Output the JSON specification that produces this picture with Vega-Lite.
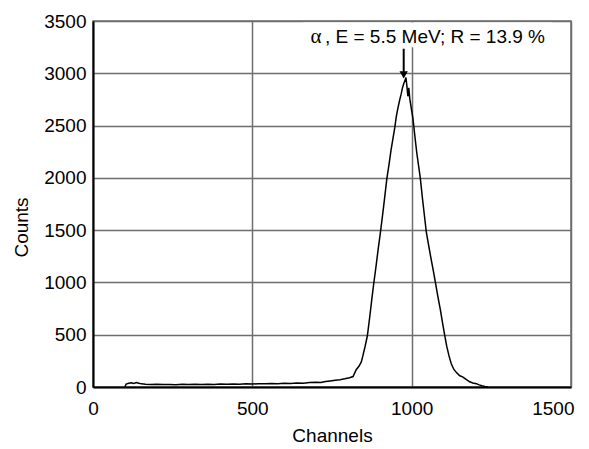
{
  "$schema": "https://vega.github.io/schema/vega-lite/v6.json",
  "width": 478,
  "height": 366,
  "autosize": {"type": "none"},
  "padding": {"left": 93, "top": 21, "right": 18, "bottom": 62},
  "background": "white",
  "config": {
    "view": {"stroke": "#6e6e6e", "strokeWidth": 1.5},
    "font": "Liberation Sans",
    "axis": {
      "labelFont": "Liberation Sans",
      "titleFont": "Liberation Sans",
      "labelFontSize": 19,
      "titleFontSize": 19,
      "titleFontWeight": "normal",
      "labelColor": "black",
      "titleColor": "black",
      "gridColor": "#6e6e6e",
      "gridWidth": 1.5,
      "gridOpacity": 1,
      "domainColor": "black",
      "domainWidth": 2,
      "ticks": false,
      "format": "d"
    }
  },
  "datasets": {
    "spectrum": [
      {"channel": 100, "counts": 0}, {"channel": 104, "counts": 28}, {"channel": 112, "counts": 36},
      {"channel": 120, "counts": 40}, {"channel": 128, "counts": 34}, {"channel": 136, "counts": 42},
      {"channel": 144, "counts": 36}, {"channel": 152, "counts": 30}, {"channel": 165, "counts": 26},
      {"channel": 180, "counts": 24}, {"channel": 200, "counts": 26}, {"channel": 220, "counts": 23},
      {"channel": 240, "counts": 25}, {"channel": 260, "counts": 22}, {"channel": 280, "counts": 26},
      {"channel": 300, "counts": 24}, {"channel": 320, "counts": 27}, {"channel": 340, "counts": 23},
      {"channel": 360, "counts": 26}, {"channel": 380, "counts": 25}, {"channel": 400, "counts": 28},
      {"channel": 420, "counts": 26}, {"channel": 440, "counts": 29}, {"channel": 460, "counts": 27},
      {"channel": 480, "counts": 31}, {"channel": 500, "counts": 28}, {"channel": 520, "counts": 32},
      {"channel": 540, "counts": 30}, {"channel": 560, "counts": 34}, {"channel": 580, "counts": 31},
      {"channel": 600, "counts": 35}, {"channel": 620, "counts": 33}, {"channel": 640, "counts": 38},
      {"channel": 660, "counts": 36}, {"channel": 680, "counts": 42}, {"channel": 700, "counts": 46},
      {"channel": 715, "counts": 44}, {"channel": 730, "counts": 52}, {"channel": 745, "counts": 58},
      {"channel": 760, "counts": 64}, {"channel": 775, "counts": 70}, {"channel": 790, "counts": 78},
      {"channel": 805, "counts": 88}, {"channel": 816, "counts": 100}, {"channel": 826, "counts": 165},
      {"channel": 835, "counts": 200}, {"channel": 842, "counts": 240}, {"channel": 847, "counts": 300},
      {"channel": 854, "counts": 390}, {"channel": 861, "counts": 490}, {"channel": 868, "counts": 660},
      {"channel": 875, "counts": 840}, {"channel": 881, "counts": 990}, {"channel": 888, "counts": 1150},
      {"channel": 895, "counts": 1320}, {"channel": 902, "counts": 1480}, {"channel": 909, "counts": 1650},
      {"channel": 916, "counts": 1830}, {"channel": 922, "counts": 1990}, {"channel": 929, "counts": 2130},
      {"channel": 935, "counts": 2260}, {"channel": 941, "counts": 2370}, {"channel": 947, "counts": 2480},
      {"channel": 952, "counts": 2590}, {"channel": 957, "counts": 2670}, {"channel": 962, "counts": 2740},
      {"channel": 967, "counts": 2800}, {"channel": 971, "counts": 2860}, {"channel": 975, "counts": 2900},
      {"channel": 979, "counts": 2930}, {"channel": 982, "counts": 2960}, {"channel": 985, "counts": 2880},
      {"channel": 988, "counts": 2780}, {"channel": 991, "counts": 2860}, {"channel": 994, "counts": 2760},
      {"channel": 997, "counts": 2700}, {"channel": 1000, "counts": 2640}, {"channel": 1004, "counts": 2570},
      {"channel": 1010, "counts": 2400}, {"channel": 1016, "counts": 2240}, {"channel": 1022, "counts": 2110},
      {"channel": 1027, "counts": 2000}, {"channel": 1034, "counts": 1800}, {"channel": 1040, "counts": 1640},
      {"channel": 1046, "counts": 1480}, {"channel": 1053, "counts": 1360}, {"channel": 1060, "counts": 1240},
      {"channel": 1068, "counts": 1110}, {"channel": 1075, "counts": 990}, {"channel": 1082, "counts": 870},
      {"channel": 1090, "counts": 740}, {"channel": 1097, "counts": 610}, {"channel": 1104, "counts": 490},
      {"channel": 1110, "counts": 390}, {"channel": 1117, "counts": 300}, {"channel": 1124, "counts": 225},
      {"channel": 1132, "counts": 170}, {"channel": 1140, "counts": 140}, {"channel": 1150, "counts": 110},
      {"channel": 1161, "counts": 95}, {"channel": 1172, "counts": 70}, {"channel": 1182, "counts": 50},
      {"channel": 1192, "counts": 38}, {"channel": 1203, "counts": 32}, {"channel": 1212, "counts": 20},
      {"channel": 1220, "counts": 12}, {"channel": 1230, "counts": 5}, {"channel": 1240, "counts": 0}
    ],
    "box": [{"x1": 660, "x2": 1440, "y1": 3250, "y2": 3485}],
    "arrow": [{"channel": 975, "top": 3235, "bottom": 3010, "tip": 2985}],
    "label": [
      {"alpha": "α", "ax": 700, "text": ", E = 5.5 MeV; R = 13.9 %", "tx": 728, "y": 3345}
    ]
  },
  "layer": [
    {
      "data": {"name": "spectrum"},
      "mark": {"type": "line", "color": "black", "strokeWidth": 1.5, "clip": true},
      "encoding": {
        "x": {
          "field": "channel", "type": "quantitative",
          "scale": {"domain": [0, 1500], "nice": false},
          "axis": {"values": [0, 500, 1000, 1500], "title": "Channels", "labelPadding": 12, "titlePadding": 8, "labelFlush": false,
                   "labelAlign": {"expr": "datum.value == 1500 ? 'right' : 'center'"}, "labelOffset": {"expr": "datum.value == 1500 ? 3 : 0"}}
        },
        "y": {
          "field": "counts", "type": "quantitative",
          "scale": {"domain": [0, 3500], "nice": false},
          "axis": {"values": [0, 500, 1000, 1500, 2000, 2500, 3000, 3500], "title": "Counts", "labelPadding": 7, "titleX": -62, "titleY": 206, "labelFlush": false}
        }
      }
    },
    {
      "data": {"name": "box"},
      "mark": {"type": "rect", "color": "white"},
      "encoding": {
        "x": {"field": "x1", "type": "quantitative"},
        "x2": {"field": "x2"},
        "y": {"field": "y1", "type": "quantitative"},
        "y2": {"field": "y2"}
      }
    },
    {
      "data": {"name": "arrow"},
      "mark": {"type": "rule", "color": "black", "strokeWidth": 2},
      "encoding": {
        "x": {"field": "channel", "type": "quantitative"},
        "y": {"field": "top", "type": "quantitative"},
        "y2": {"field": "bottom"}
      }
    },
    {
      "data": {"name": "arrow"},
      "mark": {"type": "point", "shape": "triangle-down", "filled": true, "color": "black", "size": 70, "opacity": 1},
      "encoding": {
        "x": {"field": "channel", "type": "quantitative"},
        "y": {"field": "tip", "type": "quantitative"}
      }
    },
    {
      "data": {"name": "label"},
      "mark": {"type": "text", "font": "Liberation Serif", "fontSize": 21, "align": "center", "baseline": "middle", "color": "black"},
      "encoding": {
        "x": {"field": "ax", "type": "quantitative"},
        "y": {"field": "y", "type": "quantitative"},
        "text": {"field": "alpha"}
      }
    },
    {
      "data": {"name": "label"},
      "mark": {"type": "text", "font": "Liberation Sans", "fontSize": 19, "align": "left", "baseline": "middle", "color": "black"},
      "encoding": {
        "x": {"field": "tx", "type": "quantitative"},
        "y": {"field": "y", "type": "quantitative"},
        "text": {"field": "text"}
      }
    }
  ]
}
